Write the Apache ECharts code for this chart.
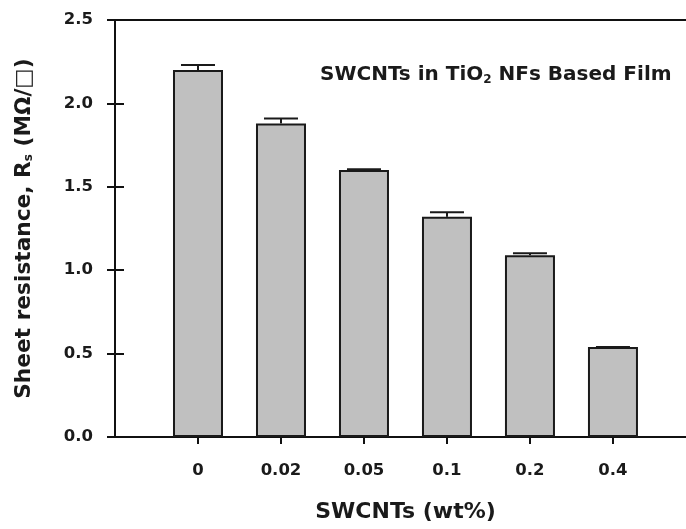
<!DOCTYPE html>
<html>
<head>
<meta charset="utf-8">
<script src="https://cdn.jsdelivr.net/npm/echarts@6/dist/echarts.min.js"></script>
<style>
  html, body { margin: 0; padding: 0; background: #fff; }
  #chart { width: 686px; height: 529px; }
</style>
</head>
<body>
<div id="chart"></div>
<script>
const categories = ['0', '0.02', '0.05', '0.1', '0.2', '0.4']
const positions = [1, 2, 3, 4, 5, 6]
const resistance = [2.20, 1.88, 1.60, 1.32, 1.09, 0.54]
const errors = [0.03, 0.03, 0.005, 0.027, 0.012, 0]

const font = '"DejaVu Sans", sans-serif'
const ink = '#1a1a1a'
const chart = echarts.init(document.getElementById('chart'))

// plot frame runs past the right edge of the picture, so the x range stops short of 7
const xMax = 6.88

const yAxisBase = {
  type: 'value',
  min: 0,
  max: 2.5,
  interval: 0.5,
  splitLine: { show: false }
}

const option = {
  animation: false,
  backgroundColor: '#fff',
  textStyle: { fontFamily: font },
  title: {
    text: 'SWCNTs in TiO{sub|2} NFs Based Film',
    left: 315,
    top: 59,
    textStyle: {
      fontFamily: font,
      fontWeight: 'bold',
      fontSize: 20,
      color: ink,
      rich: {
        sub: { fontFamily: font, fontWeight: 'bold', fontSize: 12, color: ink, padding: [10, 0, 0, 0] }
      }
    }
  },
  grid: { left: 115, right: 0, top: 20, bottom: 92 },
  xAxis: [
    {
      type: 'value',
      min: 0,
      max: xMax,
      position: 'bottom',
      splitLine: { show: false },
      axisLine: { show: true, onZero: false, lineStyle: { color: '#111', width: 2 } },
      axisTick: { show: true, customValues: positions, length: 7, lineStyle: { color: '#111', width: 2 } },
      axisLabel: {
        customValues: positions,
        formatter: v => categories[positions.indexOf(v)] ?? '',
        margin: 25,
        fontFamily: font,
        fontWeight: 'bold',
        fontSize: 16.5,
        color: ink
      },
      name: 'SWCNTs (wt%)',
      nameLocation: 'middle',
      nameGap: 64,
      nameTextStyle: { fontFamily: font, fontWeight: 'bold', fontSize: 22, color: ink, padding: [0, 0, 0, 10] }
    },
    {
      type: 'value',
      min: 0,
      max: xMax,
      position: 'top',
      splitLine: { show: false },
      axisLine: { show: true, onZero: false, lineStyle: { color: '#111', width: 2 } },
      axisTick: { show: false },
      axisLabel: { show: false }
    }
  ],
  yAxis: [
    Object.assign({}, yAxisBase, {
      position: 'left',
      axisLine: { show: true, onZero: false, lineStyle: { color: '#111', width: 2 } },
      axisTick: { show: true, length: 8, lineStyle: { color: '#111', width: 2 } },
      axisLabel: {
        margin: 22,
        fontFamily: font,
        fontWeight: 'bold',
        fontSize: 16.5,
        color: ink,
        formatter: v => v.toFixed(1)
      },
      name: 'Sheet resistance, R{sub|s} (MΩ/□)',
      nameLocation: 'middle',
      nameRotate: 90,
      nameGap: 80,
      nameTextStyle: {
        fontFamily: font,
        fontWeight: 'bold',
        fontSize: 21.7,
        color: ink,
        rich: {
          sub: { fontFamily: font, fontWeight: 'bold', fontSize: 12, color: ink, padding: [10, 0, 0, 0] }
        }
      }
    }),
    // inner half of the crossing ticks on the left axis (right-side axis pulled back onto the left line)
    Object.assign({}, yAxisBase, {
      position: 'right',
      offset: -571,
      axisLine: { show: false, onZero: false },
      axisTick: { show: true, length: 9, lineStyle: { color: '#111', width: 2 } },
      axisLabel: { show: false }
    })
  ],
  series: [
    {
      type: 'bar',
      xAxisIndex: 0,
      yAxisIndex: 0,
      barWidth: 50,
      data: positions.map((p, i) => [p, resistance[i]]),
      itemStyle: { color: '#c0c0c0', borderColor: ink, borderWidth: 2 },
      z: 2
    },
    {
      type: 'custom',
      xAxisIndex: 0,
      yAxisIndex: 1,
      data: positions.map((p, i) => [p, resistance[i], resistance[i] + errors[i]]),
      renderItem: (params, api) => {
        const base = api.coord([api.value(0), api.value(1)])
        const top = api.coord([api.value(0), api.value(2)])
        const half = 17
        const style = { stroke: ink, lineWidth: 2 }
        return {
          type: 'group',
          children: [
            { type: 'line', shape: { x1: base[0], y1: base[1], x2: top[0], y2: top[1] }, style },
            { type: 'line', shape: { x1: top[0] - half, y1: top[1], x2: top[0] + half, y2: top[1] }, style }
          ]
        }
      },
      z: 3
    }
  ]
}

chart.setOption(option)
</script>
</body>
</html>
